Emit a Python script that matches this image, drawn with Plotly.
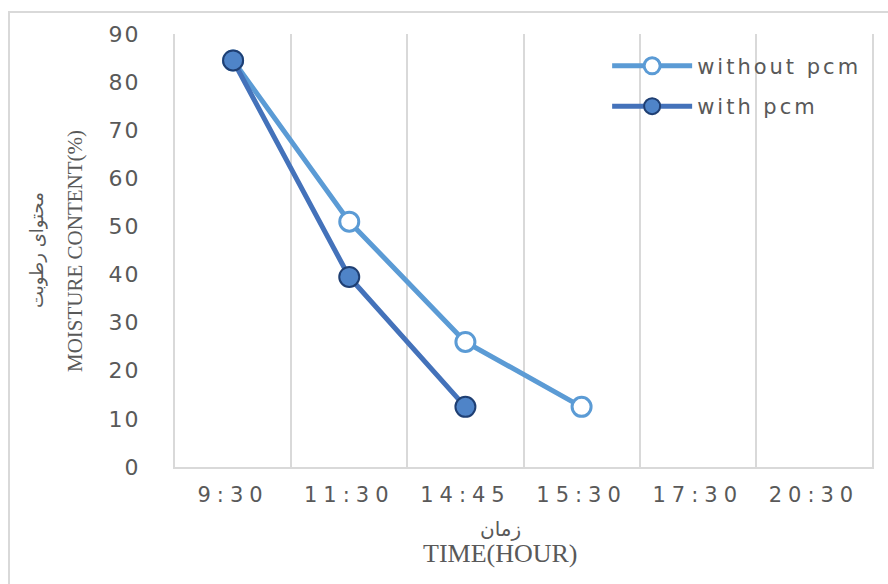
import plotly.graph_objects as go

categories = ["9:30", "11:30", "14:45", "15:30", "17:30", "20:30"]
without_pcm = [84.5, 51, 26, 12.5]
with_pcm = [84.5, 39.5, 12.5]
y_ticks = [0, 10, 20, 30, 40, 50, 60, 70, 80, 90]

GRAY = "#595959"
GRID = "#D9D9D9"
C_WITHOUT = "#5B9BD5"
C_WITH = "#4472BA"

def spaced(t, ls):
    return '<span style="letter-spacing:%dpx">%s</span>' % (ls, t)

fig = go.Figure()
fig.add_trace(go.Scatter(
    x=categories[:len(without_pcm)], y=without_pcm, mode="lines+markers",
    name=spaced("without pcm", 3), legendgroup="a",
    line=dict(color=C_WITHOUT, width=5),
    marker=dict(symbol="circle", size=19, color="white",
                line=dict(color=C_WITHOUT, width=3)),
))
fig.add_trace(go.Scatter(
    x=categories[:len(with_pcm)], y=with_pcm, mode="lines+markers",
    name=spaced("with pcm", 3), legendgroup="b",
    line=dict(color=C_WITH, width=5),
    marker=dict(symbol="circle", size=20, color="#4F84C8",
                line=dict(color="#1F3F73", width=2)),
))

fig.update_layout(
    width=888, height=584,
    margin=dict(l=175, r=16, t=34, b=117),
    paper_bgcolor="white", plot_bgcolor="white",
    showlegend=True,
    legend=dict(x=0.62, y=0.973, xanchor="left", yanchor="top",
                font=dict(family="DejaVu Sans", size=21, color=GRAY),
                bgcolor="rgba(0,0,0,0)", tracegroupgap=10,
                traceorder="grouped", itemwidth=80),
    xaxis=dict(
        type="category", categoryorder="array", categoryarray=categories,
        range=[-0.5, len(categories) - 0.5],
        tickvals=categories, ticktext=[spaced(c, 6) for c in categories],
        tickson="boundaries", showgrid=True, gridcolor=GRID, gridwidth=2,
        showline=True, linecolor=GRID, linewidth=2, ticks="",
        tickfont=dict(family="DejaVu Sans", size=21, color=GRAY),
        ticklabelstandoff=8, zeroline=False,
    ),
    yaxis=dict(
        range=[0, 90], tickvals=y_ticks,
        ticktext=[spaced(str(v), 2) for v in y_ticks],
        showgrid=False, zeroline=False, ticks="",
        showline=True, mirror=True, linecolor=GRID, linewidth=2,
        tickfont=dict(family="DejaVu Sans", size=22, color=GRAY),
        ticklabelstandoff=28,
    ),
    shapes=[dict(type="rect", xref="paper", yref="paper",
                 x0=(9 - 175) / 697, x1=1.1, y0=-0.4, y1=1 + (34 - 12) / 433,
                 line=dict(color=GRID, width=2), fillcolor="rgba(0,0,0,0)",
                 layer="below")],
    annotations=[
        dict(text="زمان", xref="paper", yref="paper",
             x=(500 - 175) / 697, y=-(529 - 467) / 433, showarrow=False,
             xanchor="center", yanchor="middle",
             font=dict(family="DejaVu Sans", size=20, color=GRAY)),
        dict(text="TIME(HOUR)", xref="paper", yref="paper",
             x=(500 - 175) / 697, y=-(553 - 467) / 433, showarrow=False,
             xanchor="center", yanchor="middle",
             font=dict(family="Liberation Serif", size=26, color=GRAY)),
        dict(text="محتوای رطوبت", xref="paper", yref="paper",
             x=(37 - 175) / 697, y=(467 - 250) / 433, showarrow=False,
             textangle=-90, xanchor="center", yanchor="middle",
             font=dict(family="DejaVu Sans", size=18, color=GRAY)),
        dict(text="MOISTURE CONTENT(%)", xref="paper", yref="paper",
             x=(75 - 175) / 697, y=(467 - 251) / 433, showarrow=False,
             textangle=-90, xanchor="center", yanchor="middle",
             font=dict(family="Liberation Serif", size=21, color=GRAY)),
    ],
)

fig.write_html("out.html")
